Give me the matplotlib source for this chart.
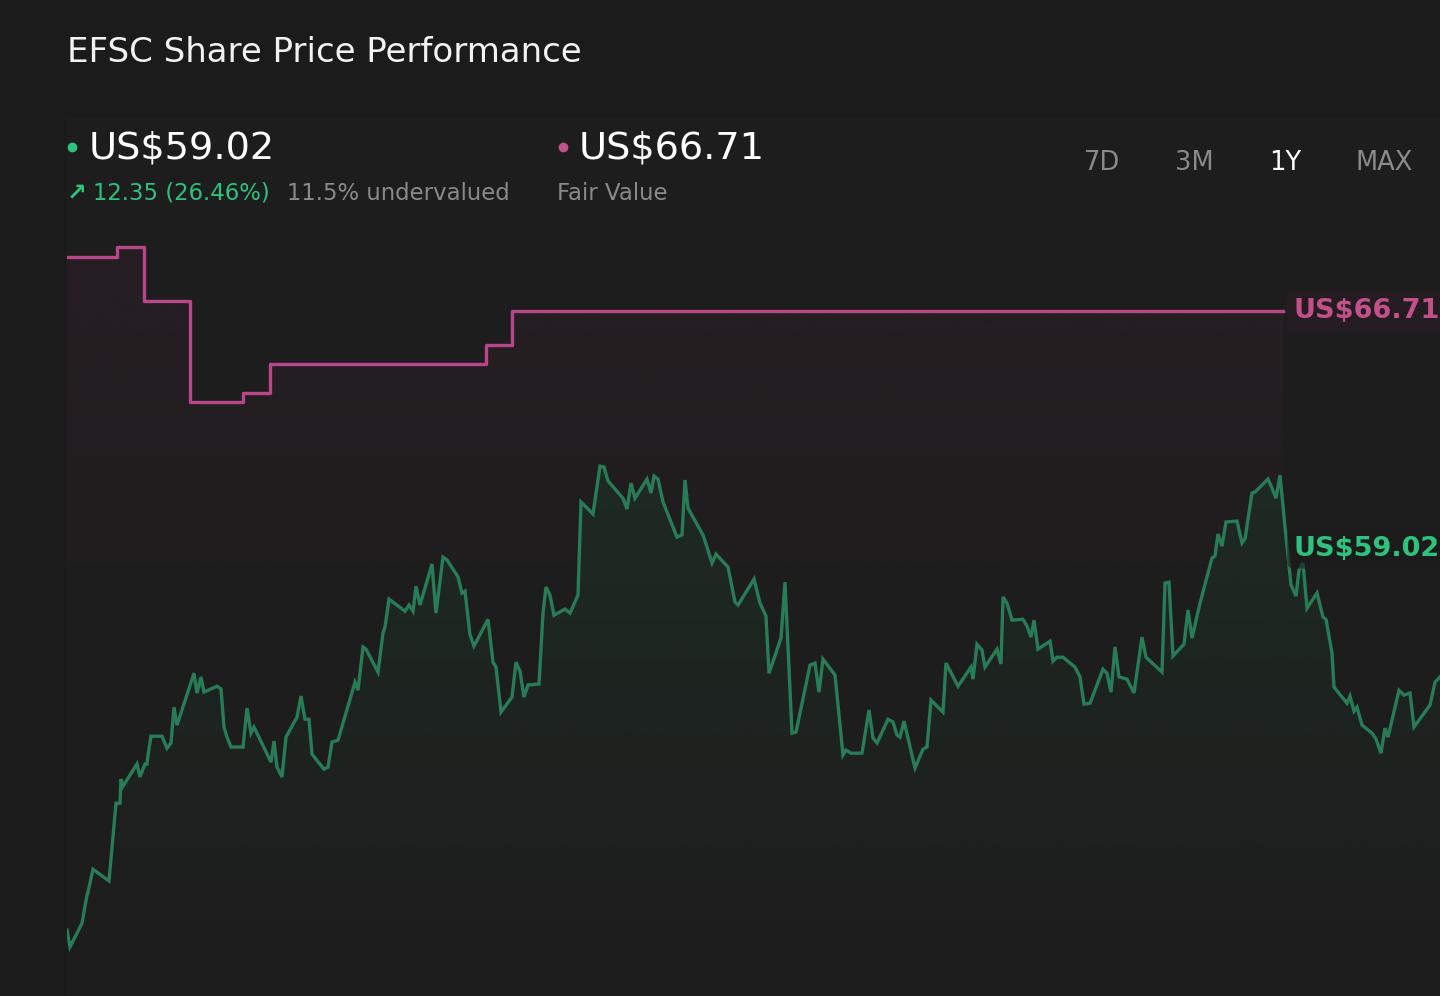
import numpy as np
import matplotlib
matplotlib.use('Agg')
import matplotlib.pyplot as plt
from matplotlib.colors import to_rgb
from matplotlib.lines import Line2D
from matplotlib.patches import Rectangle

# time index across the 1Y window (chart units) and close price
t = [0, 3, 15, 20, 21, 26, 42, 49, 53, 54, 56, 70, 73, 78, 80, 81, 84, 95, 100, 104,
     107, 110, 127, 130, 134, 137, 150, 154, 157, 160, 164, 176, 180, 184, 187, 204, 207, 210, 215, 219,
     230, 234, 238, 242, 245, 257, 261, 265, 271, 288, 291, 296, 299, 311, 316, 318, 322, 338, 342, 346,
     349, 353, 365, 369, 376, 380, 391, 395, 398, 403, 407, 421, 426, 429, 434, 445, 449, 453, 457, 461,
     472, 476, 479, 483, 487, 498, 503, 511, 514, 526, 533, 537, 541, 556, 560, 564, 568, 580, 584, 587,
     591, 596, 610, 615, 618, 621, 636, 640, 645, 649, 661, 668, 671, 676, 687, 693, 699, 702, 714, 718,
     725, 729, 743, 748, 752, 756, 768, 776, 779, 784, 795, 802, 806, 810, 821, 826, 830, 833, 837, 848,
     856, 860, 864, 876, 879, 891, 904, 906, 910, 915, 918, 930, 934, 936, 940, 945, 956, 960, 964, 967,
     971, 983, 986, 990, 996, 1008, 1013, 1017, 1023, 1036, 1040, 1044, 1048, 1052, 1060, 1067, 1075, 1079, 1095, 1098,
     1102, 1106, 1117, 1121, 1125, 1133, 1145, 1148, 1151, 1155, 1159, 1170, 1175, 1178, 1185, 1188, 1201, 1205, 1209, 1213,
     1218, 1224, 1229, 1232, 1236, 1240, 1250, 1256, 1259, 1265, 1267, 1280, 1283, 1287, 1290, 1295, 1305, 1309, 1314, 1318,
     1321, 1332, 1337, 1343, 1347, 1363, 1368, 1373]
price = [46.67, 46.12, 46.89, 47.80, 47.90, 48.64, 48.26, 50.78, 50.78, 51.56, 51.33, 52.05, 51.63, 52.05, 52.05, 52.34, 52.95, 52.95, 52.56, 52.73,
         53.89, 53.31, 54.99, 54.35, 54.87, 54.38, 54.57, 54.48, 53.25, 52.92, 52.60, 52.60, 53.86, 53.05, 53.25, 52.11, 52.79, 51.95, 51.63, 52.92,
         53.57, 54.25, 53.50, 53.50, 52.37, 51.88, 51.95, 52.76, 52.82, 54.70, 54.44, 55.84, 55.77, 55.03, 56.29, 56.49, 57.39, 57.00, 57.20, 57.00,
         57.81, 57.20, 58.53, 56.94, 58.75, 58.66, 58.11, 57.59, 57.65, 56.23, 55.87, 56.74, 55.35, 55.19, 53.73, 54.22, 55.35, 55.06, 54.22, 54.61,
         54.64, 56.94, 57.78, 57.52, 56.87, 57.07, 56.94, 57.52, 60.54, 60.15, 61.70, 61.67, 61.22, 60.66, 60.31, 61.15, 60.66, 61.28, 60.83, 61.38,
         61.28, 60.54, 59.40, 59.47, 61.25, 60.34, 59.47, 59.08, 58.56, 58.85, 58.43, 57.30, 57.20, 57.46, 58.04, 57.26, 56.84, 54.99, 56.13, 57.94,
         53.05, 53.08, 55.25, 55.32, 54.38, 55.45, 54.93, 52.34, 52.50, 52.40, 52.40, 53.80, 52.89, 52.73, 53.50, 53.41, 52.99, 52.92, 53.44, 51.92,
         52.53, 52.60, 54.12, 53.73, 55.32, 54.57, 55.19, 54.80, 55.93, 55.74, 55.19, 55.77, 55.29, 57.46, 57.26, 56.71, 56.74, 56.52, 56.16, 56.71,
         55.77, 56.03, 55.38, 55.51, 55.51, 55.19, 54.87, 53.99, 54.02, 55.12, 54.99, 54.38, 55.84, 54.87, 54.80, 54.35, 56.16, 55.51, 55.03, 57.91,
         57.94, 55.55, 55.93, 57.04, 56.13, 57.26, 58.72, 58.79, 59.50, 59.11, 59.89, 59.92, 59.21, 59.34, 60.83, 60.86, 61.28, 60.99, 60.66, 61.41,
         59.73, 57.85, 57.49, 58.33, 58.56, 57.10, 57.59, 56.81, 56.74, 55.64, 54.54, 54.02, 54.25, 53.76, 53.89, 53.31, 53.05, 52.86, 52.40, 53.21,
         52.92, 54.44, 54.28, 54.35, 53.25, 53.96, 54.70, 54.87]

# fair value estimate changes
fv_t = [0, 50, 77, 123, 176, 203, 419, 445, 1216]
fv = [68.47, 68.80, 67.05, 63.78, 64.07, 65.01, 65.62, 66.71, 66.71]

last_price = 59.02
change = 12.35
change_pct = 26.46
fair_value = 66.71
undervalued = 11.5
periods = ['7D', '3M', '1Y', 'MAX']
period_x = [1102, 1194, 1285, 1384]
active = '1Y'

BG = '#1b1b1b'
GREEN = '#2fc27d'
GREEN_LINE = '#287c56'
PINK = '#c2508b'
PINK_LINE = '#b8478a'
GREY = '#8a8a8a'

W, H = 1440, 996
fig = plt.figure(figsize=(14.4, 9.96), dpi=100, facecolor=BG)


def fx(px):
    return px / W


def fy(py):
    return 1 - py / H


# slightly lighter chart panel
fig.add_artist(Rectangle((fx(67), 0), 1 - fx(67), fy(118), transform=fig.transFigure,
                         facecolor='#1d1d1d', edgecolor='none', zorder=0))

ymin, ymax = 45.70, 69.35
ax = fig.add_axes([fx(67), fy(960), 1 - fx(67), (960 - 230) / H])
ax.set_axis_off()


def gradient_fill(ax, path, color, a_top, a_bot, top, bottom, z):
    rgba = np.zeros((256, 1, 4))
    rgba[..., :3] = to_rgb(color)
    rgba[..., 3] = np.linspace(a_top, a_bot, 256)[:, None]
    im = ax.imshow(rgba, aspect='auto', extent=[0, 1373, bottom, top], origin='upper', zorder=z)
    im.set_clip_path(path, transform=ax.transData)


t_arr = np.array(t, dtype=float)
p_arr = np.array(price)
fv_arr = np.array(fv)

fvfill = ax.fill_between(fv_t, fv_arr, ymin, step='post', color='none', lw=0)
gradient_fill(ax, fvfill.get_paths()[0], '#2a1f25', 0.8, 0.0, fv_arr.max(), 56.0, 1)

pfill = ax.fill_between(t_arr, p_arr, ymin, color='none', lw=0)
gradient_fill(ax, pfill.get_paths()[0], '#1e3328', 0.6, 0.0, p_arr.max(), ymin, 2)

ax.step(fv_t, fv, where='post', color=PINK_LINE, lw=2.4, zorder=4)
ax.plot(t_arr, p_arr, color=GREEN_LINE, lw=2.4, zorder=5, solid_joinstyle='miter')

ax.set_xlim(0, 1373)
ax.set_ylim(ymin, ymax)

# end labels
ax.text(1227, fair_value, f'US${fair_value:.2f}', color=PINK, fontsize=19.5, fontweight='bold',
        va='center', ha='left', zorder=6, clip_on=False,
        bbox=dict(boxstyle='round,pad=0.28', fc='#241c20', ec='none'))
ax.text(1227, last_price, f'US${last_price:.2f}', color=GREEN, fontsize=19.5, fontweight='bold',
        va='center', ha='left', zorder=6, clip_on=False,
        bbox=dict(boxstyle='round,pad=0.25', fc=BG, ec='none', alpha=0.6))

# header
fig.text(fx(67), fy(53), 'EFSC Share Price Performance', color='#f2f2f2', fontsize=24.5,
         va='center', ha='left')

fig.add_artist(Line2D([fx(72)], [fy(147)], marker='o', ms=7, color=GREEN, mec='none',
                      transform=fig.transFigure))
fig.text(fx(89), fy(148), f'US${last_price:.2f}', color='white', fontsize=27.5, va='center', ha='left')
fig.text(fx(67), fy(193), '\u2197', color=GREEN, fontsize=17, va='center', ha='left', fontweight='bold')
fig.text(fx(93), fy(193), f'{change:.2f} ({change_pct:.2f}%)', color=GREEN, fontsize=16.4,
         va='center', ha='left')
fig.text(fx(287), fy(193), f'{undervalued}% undervalued', color=GREY, fontsize=16.4,
         va='center', ha='left')

fig.add_artist(Line2D([fx(563)], [fy(147)], marker='o', ms=7, color=PINK, mec='none',
                      transform=fig.transFigure))
fig.text(fx(579), fy(148), f'US${fair_value:.2f}', color='white', fontsize=27.5, va='center', ha='left')
fig.text(fx(557), fy(193), 'Fair Value', color=GREY, fontsize=16.4, va='center', ha='left')

for lab, px in zip(periods, period_x):
    fig.text(fx(px), fy(163), lab, color='white' if lab == active else GREY, fontsize=18.5,
             va='center', ha='center')

fig.savefig('out.png', dpi=100, facecolor=BG)
